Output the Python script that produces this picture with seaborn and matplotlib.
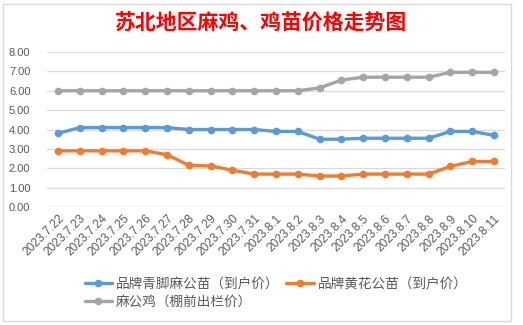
import matplotlib
matplotlib.use("Agg")
import matplotlib.pyplot as plt
import seaborn as sns
import pandas as pd
from matplotlib.patches import Rectangle

dates = ["2023.7.22", "2023.7.23", "2023.7.24", "2023.7.25", "2023.7.26", "2023.7.27",
         "2023.7.28", "2023.7.29", "2023.7.30", "2023.7.31", "2023.8.1", "2023.8.2",
         "2023.8.3", "2023.8.4", "2023.8.5", "2023.8.6", "2023.8.7", "2023.8.8",
         "2023.8.9", "2023.8.10", "2023.8.11"]
blue_vals = [3.8, 4.1, 4.1, 4.1, 4.1, 4.1, 4.0, 4.0, 4.0, 4.0, 3.9, 3.9,
             3.5, 3.5, 3.55, 3.55, 3.55, 3.55, 3.9, 3.9, 3.7]
orange_vals = [2.9, 2.9, 2.9, 2.9, 2.9, 2.7, 2.15, 2.12, 1.9, 1.7, 1.7, 1.7,
               1.6, 1.6, 1.7, 1.7, 1.7, 1.7, 2.1, 2.35, 2.35]
gray_vals = [6.0, 6.0, 6.0, 6.0, 6.0, 6.0, 6.0, 6.0, 6.0, 6.0, 6.0, 6.0,
             6.15, 6.55, 6.7, 6.7, 6.7, 6.7, 6.95, 6.95, 6.95]
series_names = ["品牌青脚麻公苗（到户价）", "品牌黄花公苗（到户价）", "麻公鸡（棚前出栏价）"]
colors = ["#5B9BD5", "#ED7D31", "#A5A5A5"]
yticks = [0, 1, 2, 3, 4, 5, 6, 7, 8]

sns.set_theme(style="white")
plt.rcParams['font.family'] = ['Noto Sans CJK SC', 'DejaVu Sans']

fig = plt.figure(figsize=(5.23, 3.25), dpi=100)
ax = fig.add_axes([0.09, 0.363, 0.8756, 0.477])

idx = list(range(len(dates)))
for name, vals, col in zip(series_names, [blue_vals, orange_vals, gray_vals], colors):
    df = pd.DataFrame({"x": idx, "y": vals})
    sns.lineplot(data=df, x="x", y="y", ax=ax, color=col, linewidth=2.4,
                 marker="o", markersize=5.5, markeredgewidth=0, label=name, legend=False)

ax.set_xlim(-0.5, len(dates) - 0.5)
ax.set_ylim(0, 8)
ax.set_yticks(yticks)
ax.set_yticklabels([f"{v:.2f}" for v in yticks], fontsize=8, color="#595959",
                   family=["Liberation Sans"])
ax.set_xticks(idx)
ax.set_xticklabels(dates, rotation=45, ha="right", rotation_mode="anchor",
                   fontsize=8.6, color="#595959", family=["Liberation Sans"])
ax.tick_params(axis="both", length=0, pad=4)
ax.tick_params(axis="y", pad=12)
ax.grid(axis="y", color="#D9D9D9", linewidth=0.9)
ax.set_axisbelow(True)
for s in ax.spines.values():
    s.set_visible(False)
ax.set_xlabel("")
ax.set_ylabel("")

fig.text(0.5, 0.93, "苏北地区麻鸡、鸡苗价格走势图", ha="center", va="center",
         fontsize=15, color="#FF0000", fontweight="bold")

h, l = ax.get_legend_handles_labels()
order = [0, 2, 1]
leg = fig.legend([h[i] for i in order], [l[i] for i in order], ncol=2,
                 loc="upper left", bbox_to_anchor=(0.162, 0.147), frameon=False,
                 fontsize=9.8, labelcolor="#595959", handlelength=2.0,
                 columnspacing=0.5, handletextpad=0.3, labelspacing=0.25,
                 borderaxespad=0, borderpad=0)

fig.patches.append(Rectangle((0.006, 0.012), 0.972, 0.975, transform=fig.transFigure,
                             fill=False, edgecolor="#D9D9D9", linewidth=1))

fig.savefig("out.png", dpi=100, facecolor="white")
